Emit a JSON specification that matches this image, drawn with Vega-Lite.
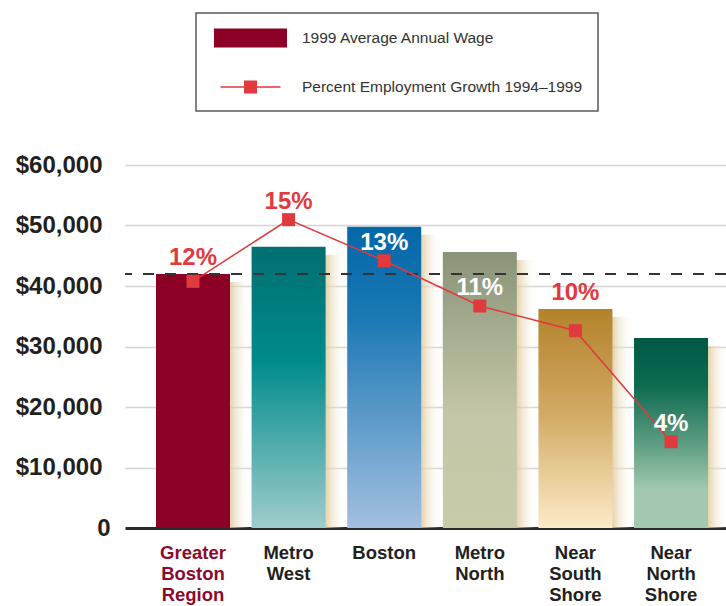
{
  "$schema": "https://vega.github.io/schema/vega-lite/v6.json",
  "width": 601,
  "height": 363,
  "autosize": {"type": "none"},
  "padding": {"left": 125, "top": 165, "right": 0, "bottom": 78},
  "background": "#FFFFFF",
  "config": {
    "view": {"stroke": null},
    "font": "Liberation Sans",
    "text": {"font": "Liberation Sans", "fontWeight": "bold", "fontSize": 24}
  },
  "data": {
    "values": [
      {"region": "Greater Boston Region", "wage": 42000, "growth": 12.0},
      {"region": "Metro West", "wage": 46500, "growth": 15.0},
      {"region": "Boston", "wage": 49800, "growth": 13.0},
      {"region": "Metro North", "wage": 45600, "growth": 10.8},
      {"region": "Near South Shore", "wage": 36200, "growth": 9.6},
      {"region": "Near North Shore", "wage": 31400, "growth": 4.2}
    ]
  },
  "transform": [
    {"calculate": "format(datum.growth, '.0f') + '%'", "as": "label"},
    {"calculate": "(datum.wage / 60000 - datum.growth / 17.66) * 363", "as": "room"}
  ],
  "layer": [
    {
      "mark": {
        "type": "bar",
        "xOffset": 20,
        "yOffset": 8,
        "y2Offset": 0,
        "fill": {
          "gradient": "linear", "x1": 0, "y1": 0, "x2": 1, "y2": 0,
          "stops": [
            {"offset": 0, "color": "rgba(222,200,150,0.85)"},
            {"offset": 0.72, "color": "rgba(222,200,150,0.85)"},
            {"offset": 1, "color": "rgba(255,255,255,0)"}
          ]
        }
      },
      "encoding": {
        "x": {
          "field": "region", "type": "nominal", "sort": null,
          "scale": {"paddingInner": 0.226, "paddingOuter": 0.256, "align": 0.633},
          "axis": {
            "title": null,
            "labelAngle": 0,
            "labelFont": "Liberation Sans",
            "labelFontWeight": "bold",
            "labelFontSize": 18.5,
            "labelColor": {"condition": {"test": "datum.value === 'Greater Boston Region'", "value": "#8B0A2C"}, "value": "#231F20"},
            "labelExpr": "split(datum.label, ' ')",
            "labelLineHeight": 21,
            "labelBaseline": "top",
            "labelPadding": 15,
            "labelLimit": 0,
            "ticks": false,
            "tickSize": 0,
            "domain": true,
            "domainColor": "#2A2A2A",
            "domainWidth": 3,
            "grid": false
          }
        },
        "y": {
          "field": "wage", "type": "quantitative", "stack": null,
          "scale": {"domain": [0, 60000], "nice": false},
          "axis": {
            "title": null,
            "values": [0, 10000, 20000, 30000, 40000, 50000, 60000],
            "labelExpr": "datum.value === 0 ? '0' : '$' + format(datum.value, ',')",
            "labelFont": "Liberation Sans",
            "labelFontSize": 24,
            "labelFontWeight": "bold",
            "labelColor": "#231F20",
            "labelPadding": {"condition": {"test": "datum.value === 0", "value": 15}, "value": 23},
            "ticks": false,
            "tickSize": 0,
            "domain": false,
            "grid": true,
            "gridColor": "#D4D4D4",
            "gridWidth": 1.5
          }
        },
        "y2": {"datum": 0}
      }
    },
    {
      "mark": {"type": "bar"},
      "encoding": {
        "x": {"field": "region", "type": "nominal", "sort": null},
        "y": {"field": "wage", "type": "quantitative", "scale": {"domain": [0, 60000], "nice": false}, "axis": null},
        "fill": {
          "condition": [
            {"test": "datum.region === 'Metro West'", "value": {"gradient": "linear", "x1": 0, "y1": 0, "x2": 0, "y2": 1, "stops": [{"offset": 0, "color": "#006F71"}, {"offset": 0.4, "color": "#008A8B"}, {"offset": 1, "color": "#A0CCCC"}]}},
            {"test": "datum.region === 'Boston'", "value": {"gradient": "linear", "x1": 0, "y1": 0, "x2": 0, "y2": 1, "stops": [{"offset": 0, "color": "#0367A8"}, {"offset": 0.3, "color": "#1B78B5"}, {"offset": 1, "color": "#A4BFE0"}]}},
            {"test": "datum.region === 'Metro North'", "value": {"gradient": "linear", "x1": 0, "y1": 0, "x2": 0, "y2": 1, "stops": [{"offset": 0, "color": "#8A9378"}, {"offset": 0.6, "color": "#C5C8A8"}, {"offset": 1, "color": "#C8CBAA"}]}},
            {"test": "datum.region === 'Near South Shore'", "value": {"gradient": "linear", "x1": 0, "y1": 0, "x2": 0, "y2": 1, "stops": [{"offset": 0, "color": "#B3822A"}, {"offset": 0.5, "color": "#D4AC68"}, {"offset": 1, "color": "#FCEBC8"}]}},
            {"test": "datum.region === 'Near North Shore'", "value": {"gradient": "linear", "x1": 0, "y1": 0, "x2": 0, "y2": 1, "stops": [{"offset": 0, "color": "#005843"}, {"offset": 0.25, "color": "#0D6B52"}, {"offset": 0.55, "color": "#5C9C80"}, {"offset": 0.8, "color": "#A2C9AF"}, {"offset": 1, "color": "#A2C9AF"}]}}
          ],
          "value": "#8C0026"
        }
      }
    },
    {
      "transform": [{"filter": "datum.region === 'Greater Boston Region'"}],
      "mark": {"type": "rule", "strokeDash": [11, 11], "color": "#333333", "strokeWidth": 2},
      "encoding": {
        "y": {"field": "wage", "type": "quantitative", "scale": {"domain": [0, 60000], "nice": false}, "axis": null}
      }
    },
    {
      "mark": {"type": "line", "strokeWidth": 1.5},
      "encoding": {
        "x": {"field": "region", "type": "nominal", "sort": null},
        "y": {"field": "growth", "type": "quantitative", "scale": {"domain": [0, 17.66], "nice": false}, "axis": null},
        "color": {
          "datum": "Percent Employment Growth 1994–1999",
          "scale": {"domain": ["1999 Average Annual Wage", "Percent Employment Growth 1994–1999"], "range": ["#8C0026", "#E0393E"]},
          "legend": {
            "title": null,
            "orient": "none",
            "legendX": 71,
            "legendY": -152,
            "direction": "vertical",
            "padding": 15,
            "strokeColor": "#5A5A5A",
            "fillColor": "#FFFFFF",
            "symbolSize": 400,
            "symbolOffset": 29.5,
            "labelOffset": 41.5,
            "rowPadding": 29,
            "labelFont": "Liberation Sans",
            "labelFontSize": 15.5,
            "labelColor": "#333333",
            "labelLimit": 0,
            "encode": {
              "legend": {"update": {"strokeWidth": {"value": 1.5}}},
              "symbols": {
                "update": {
                  "shape": {"signal": "datum.value === '1999 Average Annual Wage' ? 'M-3.65,-0.95H3.65V0.95H-3.65Z' : 'M-3,-0.08H3V0.08H-3Z M-0.65,-0.65H0.65V0.65H-0.65Z'"},
                  "fill": {"scale": "color", "field": "value"},
                  "stroke": {"value": "transparent"},
                  "strokeWidth": {"value": 0},
                  "opacity": {"value": 1}
                }
              }
            }
          }
        }
      }
    },
    {
      "mark": {"type": "point", "shape": "square", "filled": true, "size": 169, "color": "#E0393E", "opacity": 1},
      "encoding": {
        "x": {"field": "region", "type": "nominal", "sort": null},
        "y": {"field": "growth", "type": "quantitative", "scale": {"domain": [0, 17.66], "nice": false}, "axis": null}
      }
    },
    {
      "transform": [{"filter": "datum.room >= 0 && datum.room <= 28"}],
      "mark": {"type": "text", "dy": -16, "baseline": "middle", "align": "center", "color": "#E2393F"},
      "encoding": {
        "x": {"field": "region", "type": "nominal", "sort": null},
        "y": {"field": "wage", "type": "quantitative", "scale": {"domain": [0, 60000], "nice": false}, "axis": null},
        "text": {"field": "label"}
      }
    },
    {
      "transform": [{"filter": "datum.room < 0 || datum.room > 28"}],
      "mark": {"type": "text", "dy": -18, "baseline": "middle", "align": "center"},
      "encoding": {
        "x": {"field": "region", "type": "nominal", "sort": null},
        "y": {"field": "growth", "type": "quantitative", "scale": {"domain": [0, 17.66], "nice": false}, "axis": null},
        "text": {"field": "label"},
        "color": {"condition": {"test": "datum.room > 28", "value": "#FFFFFF"}, "value": "#E2393F"}
      }
    }
  ],
  "resolve": {"scale": {"y": "independent"}}
}
